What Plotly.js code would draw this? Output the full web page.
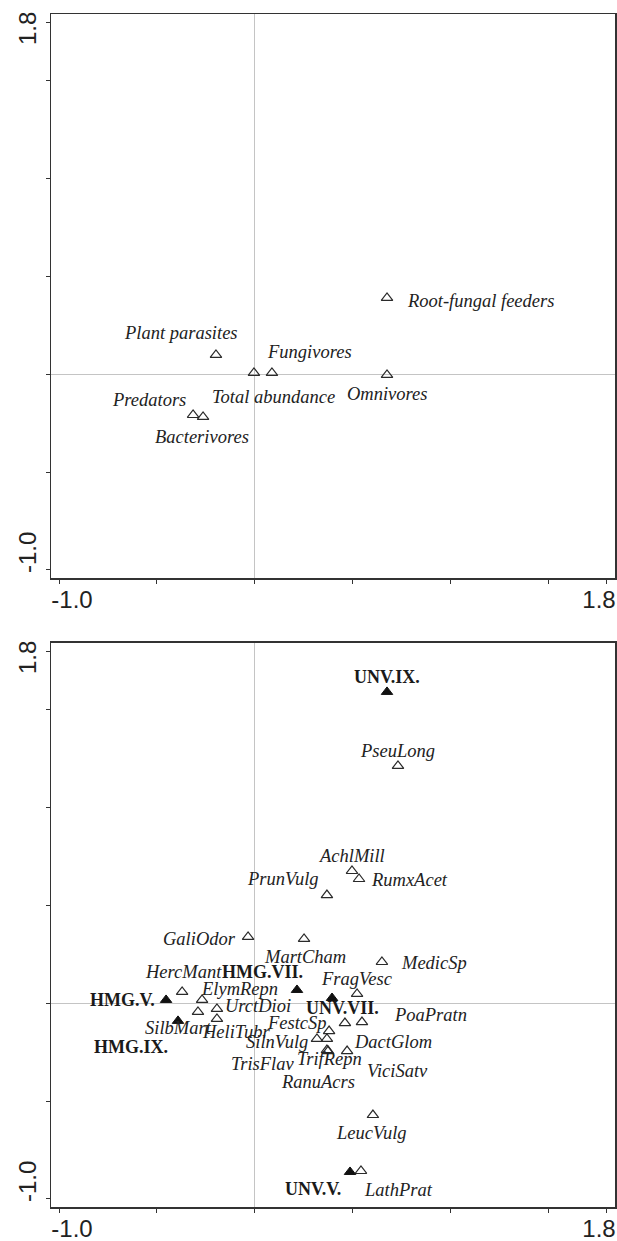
<!DOCTYPE html>
<html>
<head>
<meta charset="utf-8">
<script src="https://cdn.plot.ly/plotly-3.0.1.min.js"></script>
<style>html,body{margin:0;padding:0;background:#fff;}</style>
</head>
<body>
<div id="chart" style="width:617px;height:1241px;"></div>
<script>
// ---- data: top panel (nematode groups) ----
var groupNames = ["Root-fungal feeders","Plant parasites","Fungivores","Total abundance","Omnivores","Predators","Bacterivores"];
var groupX = [0.676, -0.198, 0.088, -0.004, 0.676, -0.315, -0.264];
var groupY = [0.390, 0.099, 0.007, 0.007, -0.003, -0.208, -0.218];

// ---- data: bottom panel, sites (filled) ----
var siteNames = ["UNV.IX.","HMG.VII.","UNV.VII.","HMG.V.","HMG.IX.","UNV.V."];
var siteX = [0.676, 0.216, 0.395, -0.453, -0.392, 0.487];
var siteY = [1.591, 0.068, 0.027, 0.017, -0.090, -0.862];

// ---- data: bottom panel, plant species (open) ----
var speciesNames = ["PseuLong","AchlMill","RumxAcet","PrunVulg","GaliOdor","MartCham","MedicSp","HercMant","ElymRepn","UrctDioi","SilbMart","HeliTubr","FragVesc","PoaPratn","DactGlom","FestcSp","SilnVulg","TrisFlav","TrifRepn","RanuAcrs","ViciSatv","LeucVulg","LathPrat"];
var speciesX = [0.732, 0.497, 0.533, 0.369, -0.034, 0.252, 0.650, -0.371, -0.269, -0.193, -0.290, -0.193, 0.523, 0.548, 0.461, 0.380, 0.318, 0.369, 0.369, 0.375, 0.472, 0.604, 0.543];
var speciesY = [1.213, 0.676, 0.635, 0.553, 0.339, 0.329, 0.211, 0.058, 0.017, -0.029, -0.044, -0.080, 0.048, -0.096, -0.101, -0.142, -0.182, -0.182, -0.239, -0.244, -0.244, -0.571, -0.857];

// ---- axis ticks ----
var tickVals = [-1.0, -0.5, 0, 0.5, 1.0, 1.5, 1.8];
var lowLabel = "-1.0";
var highLabel = "1.8";

// ---- label placement (pixel offsets & anchors; styling only) ----
var place = {
  "Root-fungal feeders": [18, -3, "left"],
  "Plant parasites": [-35, 22, "center"],
  "Fungivores": [38, 21, "center"],
  "Total abundance": [20, -24, "center"],
  "Omnivores": [0, -19, "center"],
  "Predators": [-44, 15, "center"],
  "Bacterivores": [-1, -20, "center"],
  "UNV.IX.": [0, 15, "center"],
  "HMG.VII.": [-34, 18, "center"],
  "UNV.VII.": [10, -10, "center"],
  "HMG.V.": [-44, 0, "center"],
  "HMG.IX.": [-47, -26, "center"],
  "UNV.V.": [-37, -17, "center"],
  "PseuLong": [0, 15, "center"],
  "AchlMill": [0, 15, "center"],
  "RumxAcet": [10, -1, "left"],
  "PrunVulg": [-6, 16, "right"],
  "GaliOdor": [-10, -2, "right"],
  "MartCham": [1, -18, "center"],
  "MedicSp": [17, -1, "left"],
  "HercMant": [1, 20, "center"],
  "ElymRepn": [37, 11, "center"],
  "UrctDioi": [6, 3, "left"],
  "SilbMart": [-19, -16, "center"],
  "HeliTubr": [20, -13, "center"],
  "FragVesc": [0, 15, "center"],
  "PoaPratn": [30, 7, "left"],
  "DactGlom": [7, -19, "left"],
  "FestcSp": [-32, 8, "center"],
  "SilnVulg": [-40, -3, "center"],
  "TrisFlav": [-64, -25, "center"],
  "TrifRepn": [3, -9, "center"],
  "RanuAcrs": [-10, -31, "center"],
  "ViciSatv": [50, -20, "center"],
  "LeucVulg": [-1, -18, "center"],
  "LathPrat": [38, -19, "center"]
};

var italicFont = {family: "'Liberation Serif','Times New Roman',serif", size: 18.5, color: "#222"};
var boldFont = {family: "'Liberation Serif','Times New Roman',serif", size: 18, color: "#1a1a1a", weight: "bold"};

function makeAnnotations(names, xs, ys, xref, yref, bold) {
  return names.map(function (n, i) {
    var p = place[n];
    return {
      x: xs[i], y: ys[i], xref: xref, yref: yref,
      text: bold ? "<b>" + n + "</b>" : "<i>" + n + "</i>",
      showarrow: false, xanchor: p[2], yanchor: "middle",
      xshift: p[0], yshift: p[1],
      font: bold ? boldFont : italicFont
    };
  });
}

var openMarker = {symbol: "triangle-up-open", size: 10, color: "#2a2a2a", line: {width: 1.2, color: "#2a2a2a"}};
var filledMarker = {symbol: "triangle-up", size: 10, color: "#111", line: {width: 1, color: "#111"}};

var traces = [
  {x: groupX, y: groupY, xaxis: "x", yaxis: "y", type: "scatter", mode: "markers", marker: openMarker, hoverinfo: "skip"},
  {x: speciesX, y: speciesY, xaxis: "x2", yaxis: "y2", type: "scatter", mode: "markers", marker: openMarker, hoverinfo: "skip"},
  {x: siteX, y: siteY, xaxis: "x2", yaxis: "y2", type: "scatter", mode: "markers", marker: filledMarker, hoverinfo: "skip"},
  // empty traces so the label-only overlay axes are drawn
  {x: [], y: [], xaxis: "x3", yaxis: "y3", type: "scatter", mode: "markers", hoverinfo: "skip"},
  {x: [], y: [], xaxis: "x4", yaxis: "y4", type: "scatter", mode: "markers", hoverinfo: "skip"}
];

var tickFont = {family: "'Liberation Sans', Arial, sans-serif", size: 24, color: "#222"};
var range = [-1.041, 1.841];
var topDomain = [0.52724, 1];
var botDomain = [0, 0.47276];

function lowText() { return tickVals.map(function (v, i) { return i === 0 ? lowLabel : ""; }); }

// main axes: frame, zero line, all ticks, low-end label
function xAxis(anchor) {
  return {
    anchor: anchor, domain: [0, 1], range: range, showgrid: false,
    zeroline: true, zerolinecolor: "#c4c4c4", zerolinewidth: 1,
    showline: true, mirror: true, linecolor: "#333", linewidth: 1.5,
    ticks: "outside", ticklen: 4, tickwidth: 1, tickcolor: "#333",
    tickmode: "array", tickvals: tickVals, ticktext: lowText(),
    tickfont: tickFont, tickangle: 0, ticklabeloverflow: "allow",
    ticklabelstandoff: -4, ticklabelshift: 13
  };
}
function yAxis(anchor, domain) {
  return {
    anchor: anchor, domain: domain, range: range, showgrid: false,
    zeroline: true, zerolinecolor: "#c4c4c4", zerolinewidth: 1,
    showline: true, mirror: true, linecolor: "#333", linewidth: 1.5,
    ticks: "outside", ticklen: 4, tickwidth: 1, tickcolor: "#333",
    tickmode: "array", tickvals: tickVals, ticktext: lowText(),
    tickfont: tickFont, tickangle: -90, ticklabeloverflow: "allow",
    ticklabelshift: -14
  };
}
// overlay axes: only the high-end label, nudged inward
function xAxisHigh(over, anchor) {
  return {
    overlaying: over, anchor: anchor, side: "bottom", range: range, showgrid: false,
    zeroline: false, showline: false,
    ticks: "outside", ticklen: 4, tickwidth: 1, tickcolor: "rgba(0,0,0,0)",
    tickmode: "array", tickvals: [tickVals[tickVals.length - 1]], ticktext: [highLabel],
    tickfont: tickFont, tickangle: 0, ticklabeloverflow: "allow",
    ticklabelstandoff: -4, ticklabelshift: -8
  };
}
function yAxisHigh(over, anchor) {
  return {
    overlaying: over, anchor: anchor, side: "left", range: range, showgrid: false,
    zeroline: false, showline: false,
    ticks: "outside", ticklen: 4, tickwidth: 1, tickcolor: "rgba(0,0,0,0)",
    tickmode: "array", tickvals: [tickVals[tickVals.length - 1]], ticktext: [highLabel],
    tickfont: tickFont, tickangle: -90, ticklabeloverflow: "allow",
    ticklabelshift: 10
  };
}

var annotations = []
  .concat(makeAnnotations(groupNames, groupX, groupY, "x", "y", false))
  .concat(makeAnnotations(siteNames, siteX, siteY, "x2", "y2", true))
  .concat(makeAnnotations(speciesNames, speciesX, speciesY, "x2", "y2", false));

var layout = {
  width: 617, height: 1241,
  margin: {l: 51, r: 2, t: 14, b: 34, pad: 0},
  paper_bgcolor: "#fff", plot_bgcolor: "#fff",
  showlegend: false,
  xaxis: xAxis("y"),
  yaxis: yAxis("x", topDomain),
  xaxis2: xAxis("y2"),
  yaxis2: yAxis("x2", botDomain),
  xaxis3: xAxisHigh("x", "y3"),
  yaxis3: yAxisHigh("y", "x3"),
  xaxis4: xAxisHigh("x2", "y4"),
  yaxis4: yAxisHigh("y2", "x4"),
  annotations: annotations
};

Plotly.newPlot("chart", traces, layout, {displayModeBar: false, staticPlot: true});
</script>
</body>
</html>
